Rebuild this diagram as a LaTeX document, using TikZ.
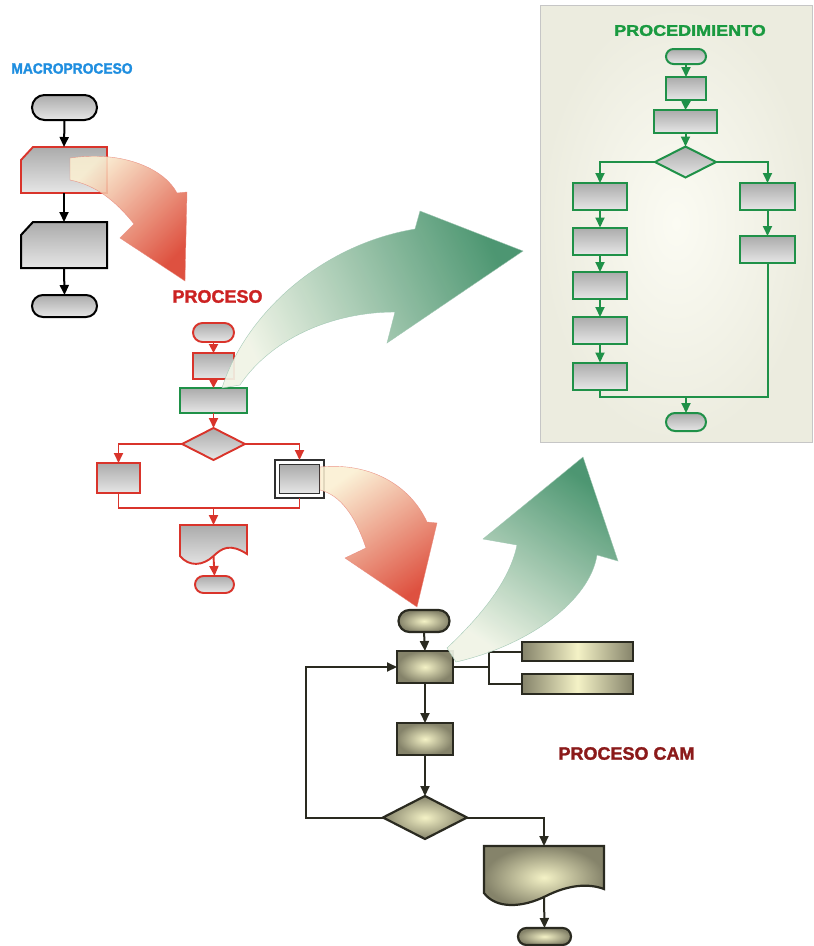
\documentclass[tikz,border=0pt]{standalone}
\usepackage{fontspec}
\setmainfont{Liberation Sans}
\newfontfamily\heavy{Liberation Sans}[BoldFeatures={FakeBold=1.6}]
\usetikzlibrary{shapes.misc,shapes.geometric,arrows.meta}
\definecolor{gA}{HTML}{ABABAB}
\definecolor{gB}{HTML}{E6E6E6}
\definecolor{lred}{HTML}{D9342B}
\definecolor{tred}{HTML}{CC2222}
\definecolor{lgreen}{HTML}{1F9148}
\definecolor{tgreen}{HTML}{1A9A40}
\definecolor{mblue}{HTML}{1E8EE0}
\definecolor{dred}{HTML}{8B1A1A}
\definecolor{camI}{HTML}{F4F2C6}
\definecolor{camO}{HTML}{85836A}
\definecolor{camB}{HTML}{2A2A20}
\definecolor{dbk}{HTML}{303030}
\definecolor{panI}{HTML}{FBFBF3}
\definecolor{panO}{HTML}{ECECDF}
\definecolor{rpale}{HTML}{FBF0D2}
\definecolor{rmid}{HTML}{EC8A5E}
\definecolor{rred}{HTML}{DA3A26}
\definecolor{gpale}{HTML}{F0F4E6}
\definecolor{gmid}{HTML}{D8E6B4}
\definecolor{ggreen}{HTML}{3E8E66}
\tikzset{
  arr/.style={-{Triangle[length=10pt,width=9pt]}},
  sarr/.style={-{Triangle[length=9pt,width=9pt]}},
  gfill/.style={top color=gA, bottom color=gB},
  gbox/.style={rectangle, draw, gfill, inner sep=0, outer sep=0},
  term/.style={rounded rectangle, draw, gfill, inner sep=0, outer sep=0},
  dia/.style={diamond, aspect=2, draw, gfill, inner sep=0, outer sep=0},
  anch/.style={rectangle, draw=none, inner sep=0, outer sep=0},
  mline/.style={draw=black, line width=2pt},
  rline/.style={draw=lred, line width=1.9pt},
  gline/.style={draw=lgreen, line width=2pt},
  cline/.style={draw=camB, line width=2pt},
  camfill/.style={inner color=camI, outer color=camO},
  cbox/.style={rectangle, draw=camB, line width=2.2pt, camfill, inner sep=0, outer sep=0},
  cterm/.style={rounded rectangle, draw=camB, line width=2.2pt, camfill, inner sep=0, outer sep=0},
  cdia/.style={diamond, aspect=2, draw=camB, line width=2.2pt, camfill, inner sep=0, outer sep=0},
  cbar/.style={rectangle, draw=camB, line width=2.2pt, left color=camO, right color=camO, middle color=camI, inner sep=0, outer sep=0},
  title/.style={font=\heavy\bfseries, inner sep=0}
}
\begin{document}
\begin{tikzpicture}[x=1pt,y=-1pt]
\useasboundingbox (0,0) rectangle (814,946);
\fill[white] (0,0) rectangle (814,946);

% ---------- Procedimiento panel ----------
\node[draw=gray!45, line width=0.6pt, inner color=panI, outer color=panO,
      minimum width=272, minimum height=437, inner sep=0] (panel) at (676,223.5) {};

% ---------- Titles ----------
\node[title, text=mblue, font=\heavy\bfseries\fontsize{15}{15}\selectfont] (tmacro) at (72,68.5) {\scalebox{0.92}[1]{MACROPROCESO}};
\node[title, text=tred, font=\heavy\bfseries\fontsize{18}{18}\selectfont] (tproc) at (217.5,296.5) {PROCESO};
\node[title, text=tgreen, font=\heavy\bfseries\fontsize{15.5}{15.5}\selectfont] (tprocd) at (690,30.5) {\scalebox{1.16}[1]{PROCEDIMIENTO}};
\node[title, text=dred, font=\heavy\bfseries\fontsize{18}{18}\selectfont] (tcam) at (626.5,753.5) {PROCESO CAM};

% ---------- Macroproceso ----------
\node[term, mline, minimum width=65, minimum height=25] (m1) at (64.5,107.5) {};
\node[anch, minimum width=86, minimum height=46] (m2) at (64,170) {};
\path[rline, gfill] (33,147) -- (107,147) -- (107,193) -- (21,193) -- (21,160) -- cycle;
\node[anch, minimum width=86, minimum height=46] (m3) at (64,245) {};
\path[mline, gfill] (33,222) -- (107,222) -- (107,268) -- (21,268) -- (21,235) -- cycle;
\node[term, mline, minimum width=65, minimum height=22] (m4) at (64.5,306) {};
\draw[mline, arr] (m1.south) -- (m2.north);
\draw[mline, arr] (m2.south) -- (m3.north);
\draw[mline, arr] (m3.south) -- (m4.north);

% ---------- Proceso ----------
\node[term, rline, minimum width=41, minimum height=19] (p1) at (213.5,332.5) {};
\node[gbox, rline, minimum width=41, minimum height=26] (p2) at (213.5,366) {};
\node[gbox, gline, minimum width=67, minimum height=25] (p3) at (213.5,400.5) {};
\node[dia, rline, minimum width=63, minimum height=32] (p4) at (213.5,444) {};
\node[gbox, rline, minimum width=43, minimum height=30] (p5) at (118.5,478) {};
\node[rectangle, draw=dbk, line width=2.6pt, fill=white, minimum width=49, minimum height=38, inner sep=0, outer sep=0] (p6) at (299.5,479) {};
\node[gbox, draw=dbk, line width=1.4pt, minimum width=40, minimum height=29] (p6i) at (p6.center) {};
\node[anch, minimum width=67, minimum height=32] (p7) at (213.5,541) {};
\path[rline, gfill] (p7.north west) -- (p7.north east) -- (247,554)
   .. controls (230,543) and (222,548) .. (213.5,556)
   .. controls (203,566) and (189,567) .. (180,556) -- cycle;
\node[term, rline, minimum width=39, minimum height=17] (p8) at (214.5,584.5) {};
\draw[rline, sarr] (p1.south) -- (p2.north);
\draw[rline, sarr] (p2.south) -- (p3.north);
\draw[rline, arr] (p3.south) -- (p4.north);
\draw[rline, arr] (p4.west) -| (p5.north);
\draw[rline, arr] (p4.east) -| (p6.north);
\coordinate (pm) at (213.5,508);
\draw[rline] (p5.south) |- (pm) -| (p6.south);
\draw[rline, arr] (pm) -- (p7.north);
\draw[rline, arr] (213.5,556) -- (p8.north);

% ---------- Procedimiento ----------
\node[term, gline, minimum width=40, minimum height=15] (q1) at (686,56.5) {};
\node[gbox, gline, minimum width=40, minimum height=23] (q2) at (686,88.5) {};
\node[gbox, gline, minimum width=63, minimum height=23] (q3) at (685.5,121.5) {};
\node[dia, gline, minimum width=61, minimum height=31] (q4) at (685.5,162) {};
\foreach \i/\y in {1/196.5,2/241,3/285.5,4/330.5,5/376}{
  \node[gbox, gline, minimum width=54, minimum height=27] (l\i) at (600,\y) {};
}
\node[gbox, gline, minimum width=55, minimum height=27] (r1) at (767.5,196.5) {};
\node[gbox, gline, minimum width=55, minimum height=27] (r2) at (767.5,249.5) {};
\node[term, gline, minimum width=40, minimum height=18] (q5) at (686,422) {};
\draw[gline, arr] (q1.south) -- (q2.north);
\draw[gline, sarr] (q2.south) -- (q3.north);
\draw[gline, arr] (q3.south) -- (q4.north);
\draw[gline, arr] (q4.west) -| (l1.north);
\draw[gline, arr] (q4.east) -| (r1.north);
\draw[gline, arr] (l1.south) -- (l2.north);
\draw[gline, arr] (l2.south) -- (l3.north);
\draw[gline, arr] (l3.south) -- (l4.north);
\draw[gline, arr] (l4.south) -- (l5.north);
\draw[gline, arr] (r1.south) -- (r2.north);
\coordinate (qm) at (686,397);
\draw[gline] (l5.south) |- (qm) -| (r2.south);
\draw[gline, arr] (qm) -- (q5.north);

% ---------- Proceso CAM ----------
\node[cterm, minimum width=51, minimum height=22] (c1) at (424,621) {};
\node[cbox, minimum width=56, minimum height=32] (c2) at (425,667) {};
\node[cbox, minimum width=56, minimum height=32] (c3) at (425,739) {};
\node[cdia, minimum width=84, minimum height=43] (c4) at (425,817.5) {};
\node[cbar, minimum width=111, minimum height=19] (b1) at (577.5,651.5) {};
\node[cbar, minimum width=111, minimum height=20] (b2) at (577.5,684) {};
\node[anch, minimum width=120, minimum height=46] (c5) at (544,869) {};
\path[draw=camB, line width=2.2pt, camfill] (c5.north west) -- (c5.north east) -- (604,889)
   .. controls (588,883) and (568,885) .. (546,896)
   .. controls (522,908) and (496,909) .. (484,893) -- cycle;
\node[cterm, minimum width=53, minimum height=17] (c6) at (544.5,936.5) {};
\coordinate (cb) at (489,667);
\draw[cline, arr] (c1.south) -- (c2.north);
\draw[cline] (c2.east) -- (cb);
\draw[cline] (b1.west) -| (cb) |- (b2.west);
\draw[cline, arr] (c2.south) -- (c3.north);
\draw[cline, arr] (c3.south) -- (c4.north);
\coordinate (cl) at (306,817.5);
\draw[cline, arr] (c4.west) -- (cl) |- (c2.west);
\draw[cline, arr] (c4.east) -| (c5.north);
\draw[cline, arr] (544,897) -- (c6.north);

% ---------- Big curved arrows ----------
\path[draw=rred!60, line width=0.4pt, top color=rpale, middle color=rmid, bottom color=rred,
      shading angle=45, opacity=0.88]
  (70,158) .. controls (125,150) and (165,170) .. (177,193) -- (187,192) -- (185,281)
  -- (120,238) -- (134,224) .. controls (115,200) and (95,185) .. (70,180) -- cycle;
\path[draw=ggreen!50, line width=0.4pt, bottom color=gpale, middle color=gmid, top color=ggreen,
      shading angle=-65, opacity=0.92]
  (222,388) .. controls (245,315) and (320,245) .. (415,229) -- (420,211) -- (523,251)
  -- (387,343) -- (395,312) .. controls (330,312) and (270,340) .. (240,385) -- cycle;
\path[draw=rred!60, line width=0.4pt, top color=rpale, middle color=rmid, bottom color=rred,
      shading angle=35, opacity=0.88]
  (320,467) .. controls (370,462) and (410,485) .. (427,522) -- (437,523) -- (417,607)
  -- (345,558) -- (366,548) .. controls (355,515) and (340,495) .. (320,490) -- cycle;
\path[draw=ggreen!50, line width=0.4pt, bottom color=gpale, middle color=gmid, top color=ggreen,
      shading angle=-34, opacity=0.92]
  (447,648) .. controls (482,615) and (510,580) .. (517,545) -- (483,539) -- (583,457)
  -- (618,561) -- (597,555) .. controls (590,600) and (530,645) .. (456,662) -- cycle;
\end{tikzpicture}
\end{document}
